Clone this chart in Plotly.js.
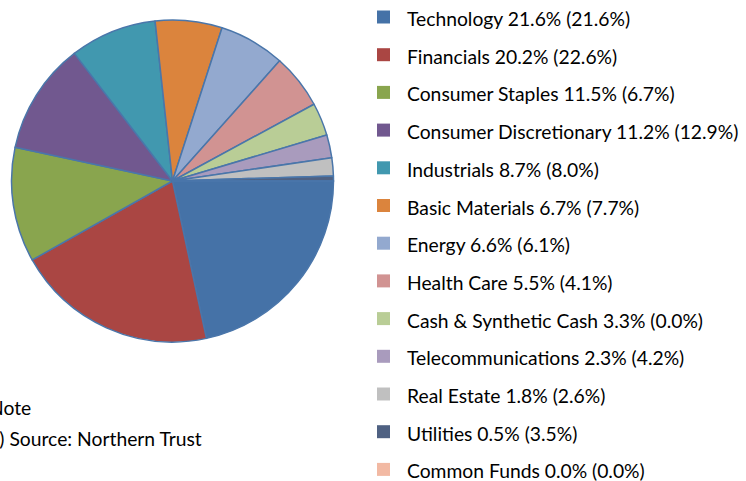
<!DOCTYPE html>
<html>
<head>
<meta charset="utf-8">
<script src="https://cdn.plot.ly/plotly-3.0.1.min.js"></script>
<style>html,body{margin:0;padding:0;background:#fff;}#chart{width:746px;height:481px;}</style>
</head>
<body>
<div id="chart"></div>
<script>
const categories = ["Technology","Financials","Consumer Staples","Consumer Discretionary","Industrials","Basic Materials","Energy","Health Care","Cash & Synthetic Cash","Telecommunications","Real Estate","Utilities","Common Funds"];
const fundWeights = [21.6,20.2,11.5,11.2,8.7,6.7,6.6,5.5,3.3,2.3,1.8,0.5,0.0];
const benchmarkWeights = [21.6,22.6,6.7,12.9,8.0,7.7,6.1,4.1,0.0,4.2,2.6,3.5,0.0];
const colors = ["#4572A7","#AA4643","#89A54E","#71588F","#4198AF","#DB843D","#93A9CF","#D19392","#B9CD96","#A99BBD","#C0C0C0","#4F6182","#F2B9A3"];
const notes = ["Note","(1) Source: Northern Trust"];

const W = 746, H = 481;
const px = x => x / W;
const py = y => 1 - y / H;
const FONT = "Lato, 'Open Sans', sans-serif";
const FS = 19.3;

const trace = {
  type: "pie",
  labels: categories,
  values: fundWeights,
  sort: false,
  direction: "clockwise",
  rotation: 90,
  textinfo: "none",
  hoverinfo: "label+percent",
  marker: {colors: colors, line: {color: "#4A76AA", width: 1.5}},
  domain: {x: [px(11.5), px(333.5)], y: [py(342), py(20)]},
  showlegend: false
};

const shapes = [];
const annotations = [];
const y0 = 17, pitch = 37.7;
categories.forEach((c, i) => {
  const cy = y0 + i * pitch;
  shapes.push({type: "rect", xref: "paper", yref: "paper",
    x0: px(377), x1: px(390), y0: py(cy + 6.5), y1: py(cy - 6.5),
    fillcolor: colors[i], line: {width: 0}});
  annotations.push({xref: "paper", yref: "paper", x: px(405), y: py(cy + 1.5),
    xanchor: "left", yanchor: "middle", showarrow: false,
    text: c + " " + fundWeights[i].toFixed(1) + "% (" + benchmarkWeights[i].toFixed(1) + "%)",
    font: {family: FONT, size: FS, color: "#000"}});
});
annotations.push({xref: "paper", yref: "paper", x: px(-13), y: py(407), xanchor: "left", yanchor: "middle",
  showarrow: false, text: notes[0], font: {family: FONT, size: FS, color: "#000"}});
annotations.push({xref: "paper", yref: "paper", x: px(-19), y: py(438), xanchor: "left", yanchor: "middle",
  showarrow: false, text: notes[1], font: {family: FONT, size: FS, color: "#000"}});

const layout = {
  width: W, height: H,
  margin: {l: 0, r: 0, t: 0, b: 0},
  paper_bgcolor: "#fff",
  plot_bgcolor: "#fff",
  showlegend: false,
  shapes: shapes,
  annotations: annotations,
  font: {family: FONT}
};

Plotly.newPlot("chart", [trace], layout, {staticPlot: true, displayModeBar: false});
</script>
</body>
</html>
